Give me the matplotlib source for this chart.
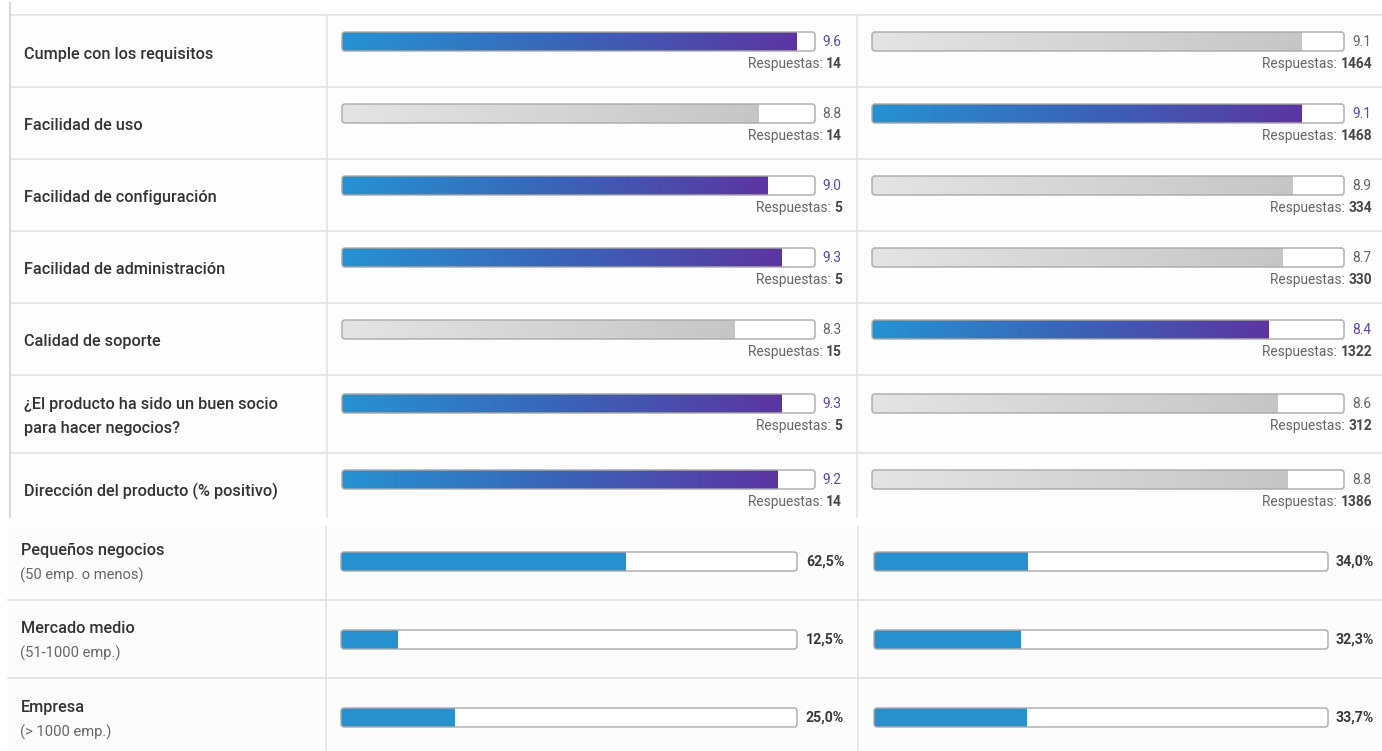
import matplotlib
matplotlib.use("Agg")
import matplotlib.pyplot as plt
import numpy as np
from matplotlib.patches import FancyBboxPatch
from matplotlib.colors import LinearSegmentedColormap

# ---------------- data ----------------
criteria = [
    "Cumple con los requisitos",
    "Facilidad de uso",
    "Facilidad de configuración",
    "Facilidad de administración",
    "Calidad de soporte",
    "¿El producto ha sido un buen socio\npara hacer negocios?",
    "Dirección del producto (% positivo)",
]
left_scores = [9.6, 8.8, 9.0, 9.3, 8.3, 9.3, 9.2]
left_counts = [14, 14, 5, 5, 15, 5, 14]
right_scores = [9.1, 9.1, 8.9, 8.7, 8.4, 8.6, 8.8]
right_counts = [1464, 1468, 334, 330, 1322, 312, 1386]

segments = ["Pequeños negocios", "Mercado medio", "Empresa"]
segment_notes = ["(50 emp. o menos)", "(51-1000 emp.)", "(> 1000 emp.)"]
left_share = [62.5, 12.5, 25.0]
right_share = [34.0, 32.3, 33.7]

# ---------------- style ----------------
W, H, DPI = 1382, 751, 100
FONT = "Roboto"
plt.rcParams["font.family"] = [FONT, "DejaVu Sans"]

LINE = "#e3e3e3"
OUTLINE = "#a9a9a9"
PURPLE_TXT = "#6045b0"
GREY_TXT = "#666666"
DARK_TXT = "#333333"
BLUE = "#2790cf"
grad_cmap = LinearSegmentedColormap.from_list("g", ["#2692d1", "#3a64b8", "#5c35a2"])
grey_cmap = LinearSegmentedColormap.from_list("gr", ["#e4e4e4", "#c6c6c6"])

LABEL_FS = 11.7
SMALL_FS = 9.9
DY = 1.5  # baseline nudge for labels

fig = plt.figure(figsize=(W / DPI, H / DPI), dpi=DPI)
fig.patch.set_facecolor("white")

bg = fig.add_axes([0, 0, 1, 1])
bg.set_xlim(0, W)
bg.set_ylim(H, 0)
bg.axis("off")

# section backgrounds
bg.add_patch(plt.Rectangle((10, 15), W - 10, 502, facecolor="#fdfdfd", edgecolor="none", zorder=0))
bg.add_patch(plt.Rectangle((8, 527), W - 8, H - 527, facecolor="#fcfcfc", edgecolor="none", zorder=0))

# ---- top table grid ----
top_rows = [15, 87, 159, 231, 303, 375, 453, 517]
for y in top_rows[:-1]:
    bg.plot([10, W], [y, y], color=LINE, lw=1.2, zorder=1)
bg.plot([10, 10], [3, 517], color="#d8d8d8", lw=1.5, zorder=1)
for x in (327, 857):
    bg.plot([x, x], [15, 517], color=LINE, lw=1.2, zorder=1)

# ---- bottom table grid ----
bot_rows = [527, 600, 678, 751]
for y in bot_rows[1:-1]:
    bg.plot([8, W], [y, y], color=LINE, lw=1.2, zorder=1)
for x in (326, 858):
    bg.plot([x, x], [527, 751], color=LINE, lw=1.2, zorder=1)


def bar_axes(x0, x1, y0, y1, vmax):
    ax = fig.add_axes([x0 / W, 1 - y1 / H, (x1 - x0) / W, (y1 - y0) / H])
    ax.set_xlim(0, vmax)
    ax.set_ylim(0, 1)
    ax.axis("off")
    wpx, hpx = x1 - x0, y1 - y0
    r = 3.0 / wpx
    track = FancyBboxPatch((0, 0), 1, 1, boxstyle=f"round,pad=0,rounding_size={r}",
                           mutation_aspect=wpx / hpx, transform=ax.transAxes,
                           facecolor="white", edgecolor="none", zorder=1)
    ax.add_patch(track)
    edge = FancyBboxPatch((0, 0), 1, 1, boxstyle=f"round,pad=0,rounding_size={r}",
                          mutation_aspect=wpx / hpx, transform=ax.transAxes,
                          facecolor="none", edgecolor=OUTLINE, lw=1.0, zorder=5, clip_on=False)
    ax.add_patch(edge)
    return ax, track


def gradient_bar(x0, x1, y0, y1, value, cmap):
    ax, track = bar_axes(x0, x1, y0, y1, 10)
    grad = np.linspace(0, 1, 256).reshape(1, -1)
    im = ax.imshow(grad, extent=[0, value, 0, 1], aspect="auto", cmap=cmap,
                   interpolation="bilinear", zorder=2)
    im.set_clip_path(track)
    ax.set_xlim(0, 10)
    ax.set_ylim(0, 1)


def respuestas(xr, y, n):
    num = bg.text(xr, y, str(n), ha="right", va="center", fontsize=SMALL_FS,
                  fontweight="bold", color="#474747", zorder=3)
    bg.annotate("Respuestas: ", xy=(0, 0.5), xycoords=num, ha="right", va="center",
                fontsize=SMALL_FS, color=GREY_TXT, zorder=3)


label_y = [53, 124, 196, 268, 340, None, 490]
bar_tops = [32, 104, 176, 248, 320, 394, 470]
BH = 19
cols = [(342, 815, 822, 842), (872, 1344, 1352, 1372)]

for i, name in enumerate(criteria):
    if "\n" in name:
        l1, l2 = name.split("\n")
        bg.text(24, 403 + DY, l1, ha="left", va="center", fontsize=LABEL_FS, fontweight="medium", color=DARK_TXT)
        bg.text(24, 427 + DY, l2, ha="left", va="center", fontsize=LABEL_FS, fontweight="medium", color=DARK_TXT)
    else:
        bg.text(24, label_y[i] + DY, name, ha="left", va="center", fontsize=LABEL_FS, fontweight="medium", color=DARK_TXT)
    best = max(left_scores[i], right_scores[i])
    for (x0, x1, xt, xr), score, count in zip(cols, (left_scores[i], right_scores[i]),
                                               (left_counts[i], right_counts[i])):
        hi = score == best
        y0 = bar_tops[i]
        gradient_bar(x0, x1, y0, y0 + BH, score, grad_cmap if hi else grey_cmap)
        bg.text(xt, y0 + BH / 2 + 0.5, f"{score:.1f}", ha="left", va="center", fontsize=SMALL_FS,
                color=PURPLE_TXT if hi else GREY_TXT, zorder=3)
        respuestas(xr, y0 + 32, count)

# ---- bottom: market segments ----
seg_bar_tops = [552, 630, 708]
seg_main_y = [549, 627, 706]
seg_cols = [(341, 797, 806), (874, 1328, 1336)]
for i, seg in enumerate(segments):
    bg.text(21, seg_main_y[i] + DY, seg, ha="left", va="center", fontsize=LABEL_FS, fontweight="medium", color=DARK_TXT)
    bg.text(20, seg_main_y[i] + 25 + DY, segment_notes[i], ha="left", va="center", fontsize=10.6, color=GREY_TXT)
    for (x0, x1, xt), share in zip(seg_cols, (left_share[i], right_share[i])):
        y0 = seg_bar_tops[i]
        ax, track = bar_axes(x0, x1, y0, y0 + BH, 100)
        bars = ax.barh([0.5], [share], height=1.0, left=0, color=BLUE, zorder=2)
        bars[0].set_clip_path(track)
        bg.text(xt, y0 + BH / 2 + 0.5, f"{share:.1f}%".replace(".", ","), ha="left", va="center",
                fontsize=10.2, fontweight="bold", color="#3a3a3a", zorder=3)

fig.savefig("out.png", dpi=DPI, facecolor="white")
